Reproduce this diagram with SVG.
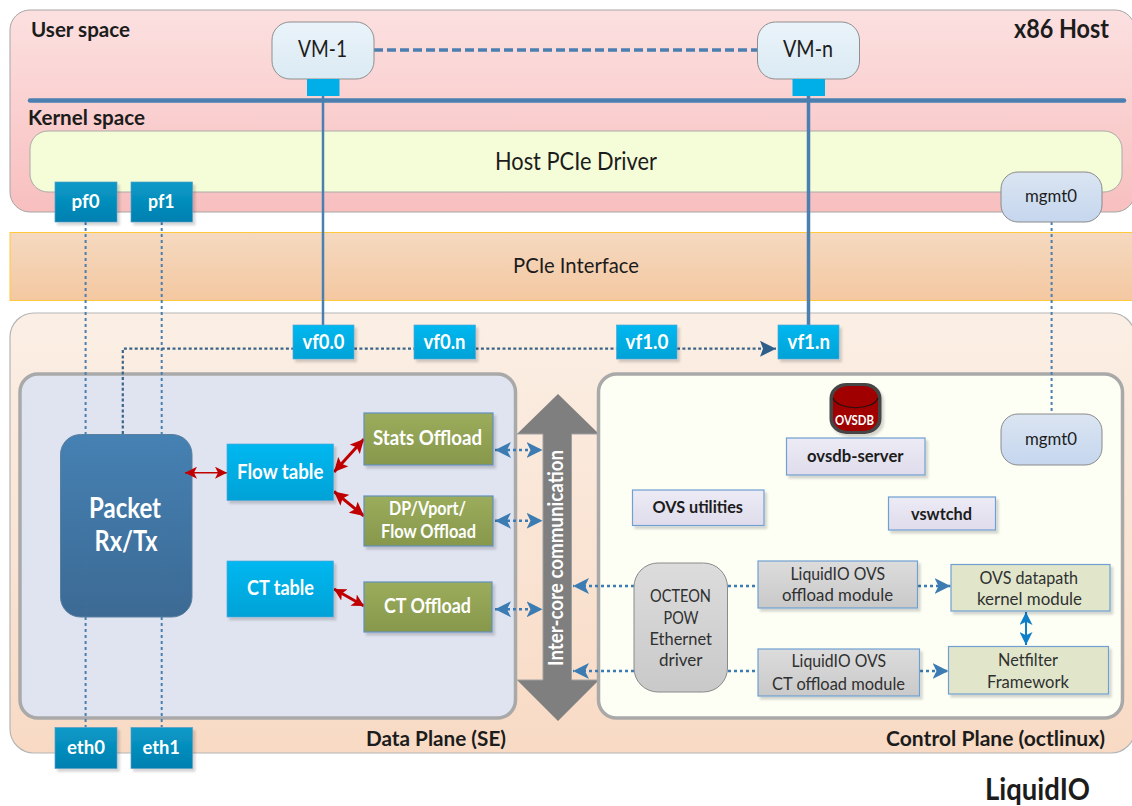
<svg xmlns="http://www.w3.org/2000/svg" width="1132" height="806" viewBox="0 0 1132 806">
<defs>
<linearGradient id="gHost" x1="0" y1="0" x2="0" y2="1"><stop offset="0" stop-color="#fce0e0"/><stop offset="1" stop-color="#f8bfbf"/></linearGradient>
<linearGradient id="gBand" x1="0" y1="0" x2="0" y2="1"><stop offset="0" stop-color="#f5d9c0"/><stop offset="1" stop-color="#f4c8a1"/></linearGradient>
<linearGradient id="gOuter" x1="0" y1="0" x2="0" y2="1"><stop offset="0" stop-color="#fbefe5"/><stop offset="1" stop-color="#f8dac4"/></linearGradient>
<linearGradient id="gVm" x1="0" y1="0" x2="0" y2="1"><stop offset="0" stop-color="#eaf3fa"/><stop offset="1" stop-color="#dbeaf3"/></linearGradient>
<linearGradient id="gMgmt" x1="0" y1="0" x2="0" y2="1"><stop offset="0" stop-color="#dbe5f2"/><stop offset="1" stop-color="#c5d6ee"/></linearGradient>
<linearGradient id="gPf" x1="0" y1="0" x2="0" y2="1"><stop offset="0" stop-color="#0a9ac8"/><stop offset="1" stop-color="#0080b0"/></linearGradient>
<linearGradient id="gVf" x1="0" y1="0" x2="0" y2="1"><stop offset="0" stop-color="#00b8f0"/><stop offset="1" stop-color="#00a2d6"/></linearGradient>
<linearGradient id="gPkt" x1="0" y1="0" x2="0" y2="1"><stop offset="0" stop-color="#4581b3"/><stop offset="1" stop-color="#3c6a94"/></linearGradient>
<linearGradient id="gOli" x1="0" y1="0" x2="0" y2="1"><stop offset="0" stop-color="#9bac5c"/><stop offset="1" stop-color="#87984c"/></linearGradient>
<linearGradient id="gLav" x1="0" y1="0" x2="0" y2="1"><stop offset="0" stop-color="#ecebf5"/><stop offset="1" stop-color="#e0dcec"/></linearGradient>
<linearGradient id="gGry" x1="0" y1="0" x2="0" y2="1"><stop offset="0" stop-color="#dcdcdc"/><stop offset="1" stop-color="#c9c9c9"/></linearGradient>
<filter id="sh" x="-10%" y="-10%" width="125%" height="130%"><feDropShadow dx="2.5" dy="3" stdDeviation="1.2" flood-color="#000" flood-opacity=".16"/></filter>
<marker id="mRed" viewBox="0 0 14 14" refX="14" refY="7" markerWidth="14" markerHeight="14" markerUnits="userSpaceOnUse" orient="auto-start-reverse"><path d="M0 0L14 7L0 14L3 7Z" fill="#c00000"/></marker>
<marker id="mRedS" viewBox="0 0 12 13" refX="12" refY="6.500" markerWidth="12" markerHeight="13" markerUnits="userSpaceOnUse" orient="auto-start-reverse"><path d="M0 0L12 6.500L0 13L3 6.500Z" fill="#c00000"/></marker>
<marker id="mRedT" viewBox="0 0 12 12" refX="12" refY="6" markerWidth="12" markerHeight="12" markerUnits="userSpaceOnUse" orient="auto-start-reverse"><path d="M0 0L12 6L0 12L3 6Z" fill="#c00000"/></marker>
<marker id="mBlue" viewBox="0 0 16 16" refX="16" refY="8" markerWidth="16" markerHeight="16" markerUnits="userSpaceOnUse" orient="auto-start-reverse"><path d="M0 0L16 8L0 16L4 8Z" fill="#3d7cb2"/></marker>
<marker id="mDark" viewBox="0 0 16 16" refX="16" refY="8" markerWidth="16" markerHeight="16" markerUnits="userSpaceOnUse" orient="auto"><path d="M0 0L16 8L0 16L3 8Z" fill="#2e5f8a"/></marker>
<marker id="mBr" viewBox="0 0 12 12" refX="12" refY="6" markerWidth="13" markerHeight="13" markerUnits="userSpaceOnUse" orient="auto-start-reverse"><path d="M0 0L12 6L0 12L3 6Z" fill="#0f7fc8"/></marker>
</defs>
<style>
text{font-family:Lato,"Liberation Sans",sans-serif;fill:#1c1c1c}
.b{font-weight:700}
.w{fill:#fff}
.g{fill:#2f3030}
.pf{fill:url(#gPf);stroke:#5b9cc4;stroke-width:.7;filter:url(#sh)}
.vf{fill:url(#gVf);stroke:#5aa5d5;stroke-width:.7;filter:url(#sh)}
.ol{fill:url(#gOli);stroke:#5f8fbe;stroke-width:1.2;filter:url(#sh)}
.lav{fill:url(#gLav);stroke:#6f9fd0;stroke-width:1.2;filter:url(#sh)}
.gry{fill:url(#gGry);stroke:#6f9fd0;stroke-width:1.2;filter:url(#sh)}
.grn{fill:#e1e6cb;stroke:#6f9fd0;stroke-width:1.2;filter:url(#sh)}
.panel{stroke:#a9a9a9;stroke-width:3.5}
.dot{fill:none;stroke:#4a7fae;stroke-width:2;stroke-dasharray:3 3}
.dotd{fill:none;stroke:#3a6488;stroke-width:2.2;stroke-dasharray:3 2.4}
.sol{fill:none;stroke:#4a7fb0}
.blu{fill:none;stroke:#3d7cb2;stroke-width:2.4;stroke-dasharray:3 3}
</style>

<g id="host"><rect x="10" y="10" width="1125" height="202" rx="20" fill="url(#gHost)" stroke="#a6a6a6" stroke-width="1"/>
<text class="b" x="31" y="37" font-size="21" textLength="99" lengthAdjust="spacingAndGlyphs">User space</text>
<text class="b" x="28" y="125" font-size="21" textLength="117" lengthAdjust="spacingAndGlyphs">Kernel space</text>
<text class="b" x="1014" y="38" font-size="26" textLength="95" lengthAdjust="spacingAndGlyphs">x86 Host</text></g>
<g id="host-driver"><rect x="30" y="131" width="1092" height="61" rx="18" fill="#f5fdd8" stroke="#aaa" stroke-width="1"/>
<text x="495" y="170" font-size="25" textLength="162" lengthAdjust="spacingAndGlyphs">Host PCIe Driver</text></g>
<g id="pcie"><rect x="10" y="232.500" width="1124" height="68" fill="url(#gBand)" stroke="#ffc93c" stroke-width="1"/>
<text x="513" y="273" font-size="21" textLength="126" lengthAdjust="spacingAndGlyphs">PCIe Interface</text></g>
<g id="liquidio"><rect x="10" y="313" width="1125" height="440" rx="24" fill="url(#gOuter)" stroke="#b5b5b5" stroke-width="1.200"/>
<text class="b" x="366" y="746" font-size="21" textLength="140" lengthAdjust="spacingAndGlyphs">Data Plane (SE)</text>
<text class="b" x="886" y="746" font-size="21" textLength="219" lengthAdjust="spacingAndGlyphs">Control Plane (octlinux)</text></g>
<text id="liquidio-title" class="b" x="985" y="800" font-size="30" textLength="105" lengthAdjust="spacingAndGlyphs">LiquidIO</text>

<g id="inter-core"><path d="M558 394L517 434H543V680H517L558 721L599 680H571.500V434H599Z" fill="#7f7f7f"/><path d="M517 434H543V680H517M599 434H571.500V680H599" fill="none" stroke="#a0a0a0" stroke-width="1"/></g>
<g id="data-plane"><rect x="20" y="374" width="495.500" height="344" rx="18" fill="#e0e4f0" class="panel"/></g>
<g id="control-plane"><rect x="598.500" y="374" width="524" height="344" rx="18" fill="#fdfff5" class="panel"/></g>
<text transform="translate(563 666) rotate(-90)" class="b w" font-size="21" textLength="216" lengthAdjust="spacingAndGlyphs">Inter-core communication</text>

<g id="packet"><rect x="60.500" y="434.500" width="131.500" height="182.500" rx="20" fill="url(#gPkt)" stroke="#5b7f9f"/>
<text class="b w" x="89" y="518" font-size="28" textLength="72" lengthAdjust="spacingAndGlyphs">Packet</text>
<text class="b w" x="94.500" y="551" font-size="28" textLength="63" lengthAdjust="spacingAndGlyphs">Rx/Tx</text></g>

<g id="connectors">
<path class="sol" stroke-width="4.500" stroke-linecap="round" d="M30 100.500H1124"/>
<path class="sol" stroke-width="3.500" stroke-dasharray="9 4" d="M374 50H757"/>
<path class="sol" stroke-width="2.500" d="M323 96V325"/>
<path class="sol" stroke-width="3.500" d="M808.500 96V325"/>
<path class="dot" d="M85.600 222V434M161.700 222V434M85.600 617V727M161.700 617V727M1051.600 222V414"/>
<path class="dot" stroke-opacity=".14" d="M85.600 434V617M161.700 434V617"/>
<path class="dotd" d="M122.800 434V348.700H293M354 348.700H414M475.500 348.700H616.500"/>
<path class="dotd" d="M677 348.700H776" marker-end="url(#mDark)"/>
<path d="M185 472.700H227" fill="none" stroke="#c00000" stroke-width="1.500" marker-start="url(#mRedT)" marker-end="url(#mRedT)"/>
<path d="M334 472L364 439" fill="none" stroke="#c00000" stroke-width="3" marker-start="url(#mRed)" marker-end="url(#mRed)"/>
<path d="M334 491.500L364 516" fill="none" stroke="#c00000" stroke-width="3" marker-start="url(#mRed)" marker-end="url(#mRed)"/>
<path d="M334 589L364 606" fill="none" stroke="#c00000" stroke-width="3" marker-start="url(#mRedS)" marker-end="url(#mRedS)"/>
<path class="blu" d="M495 450H542.500" marker-start="url(#mBlue)" marker-end="url(#mBlue)"/>
<path class="blu" d="M495 520.700H542.500" marker-start="url(#mBlue)" marker-end="url(#mBlue)"/>
<path class="blu" d="M495 609.300H542.500" marker-start="url(#mBlue)" marker-end="url(#mBlue)"/>
<path class="blu" d="M634 586H573" marker-end="url(#mBlue)"/>
<path class="blu" d="M634 671H573" marker-end="url(#mBlue)"/>
<path class="blu" d="M728 586H758M728 671H758"/>
<path class="blu" d="M918 586H950.500" marker-end="url(#mBlue)"/>
<path class="blu" d="M920 671H948.500" marker-end="url(#mBlue)"/>
<path d="M1026 612V645" fill="none" stroke="#0f7fc8" stroke-width="2" marker-start="url(#mBr)" marker-end="url(#mBr)"/>
</g>

<g id="vm-1"><rect x="272" y="22" width="102" height="57" rx="18" fill="url(#gVm)" stroke="#8f8f8f"/><rect x="307" y="79" width="32.500" height="17" fill="#00aee8"/>
<text x="298" y="57" font-size="23" textLength="49" lengthAdjust="spacingAndGlyphs">VM-1</text></g>
<g id="vm-n"><rect x="757.500" y="22" width="102" height="57" rx="18" fill="url(#gVm)" stroke="#8f8f8f"/><rect x="792.500" y="79" width="32.500" height="17" fill="#00aee8"/>
<text x="783" y="57" font-size="23" textLength="50" lengthAdjust="spacingAndGlyphs">VM-n</text></g>
<g id="pf0"><rect class="pf" x="55" y="182" width="62" height="40"/><text class="b w" x="71.500" y="208" font-size="19" textLength="28" lengthAdjust="spacingAndGlyphs">pf0</text></g>
<g id="pf1"><rect class="pf" x="131" y="182" width="61.500" height="40"/><text class="b w" x="148" y="208" font-size="19" textLength="26.500" lengthAdjust="spacingAndGlyphs">pf1</text></g>
<g id="mgmt0-host"><rect x="1001" y="172" width="101" height="50" rx="17" fill="url(#gMgmt)" stroke="#8a8a8a"/><text x="1025" y="202" font-size="17.500" textLength="52" lengthAdjust="spacingAndGlyphs">mgmt0</text></g>
<g id="eth0"><rect class="pf" x="55" y="727.500" width="62" height="41"/><text class="b w" x="67" y="754" font-size="19" textLength="38" lengthAdjust="spacingAndGlyphs">eth0</text></g>
<g id="eth1"><rect class="pf" x="131" y="727.500" width="61.500" height="41"/><text class="b w" x="142.500" y="754" font-size="19" textLength="37.500" lengthAdjust="spacingAndGlyphs">eth1</text></g>
<g id="vf0-0"><rect class="vf" x="293" y="325" width="61" height="34"/><text class="b w" x="302.500" y="348.500" font-size="20" textLength="42" lengthAdjust="spacingAndGlyphs">vf0.0</text></g>
<g id="vf0-n"><rect class="vf" x="414" y="325" width="61.500" height="34"/><text class="b w" x="423.500" y="348.500" font-size="20" textLength="42" lengthAdjust="spacingAndGlyphs">vf0.n</text></g>
<g id="vf1-0"><rect class="vf" x="616.500" y="325" width="60.500" height="34"/><text class="b w" x="625.500" y="348.500" font-size="20" textLength="43" lengthAdjust="spacingAndGlyphs">vf1.0</text></g>
<g id="vf1-n"><rect class="vf" x="778" y="325" width="61" height="34"/><text class="b w" x="787.500" y="348.500" font-size="20" textLength="42.500" lengthAdjust="spacingAndGlyphs">vf1.n</text></g>

<g id="flow-table"><rect class="vf" x="227" y="444" width="106.500" height="56.500"/><text class="b w" x="237" y="479" font-size="20" textLength="86.500" lengthAdjust="spacingAndGlyphs">Flow table</text></g>
<g id="ct-table"><rect class="vf" x="227" y="561" width="106.500" height="56"/><text class="b w" x="247" y="595" font-size="20" textLength="67" lengthAdjust="spacingAndGlyphs">CT table</text></g>
<g id="stats-offload"><rect class="ol" x="364" y="413" width="129" height="52"/><text class="b w" x="373" y="445" font-size="20" textLength="109" lengthAdjust="spacingAndGlyphs">Stats Offload</text></g>
<g id="dp-offload"><rect class="ol" x="364" y="496" width="129" height="50"/><text class="b w" x="389" y="515" font-size="18" textLength="77" lengthAdjust="spacingAndGlyphs">DP/Vport/</text><text class="b w" x="381" y="537.500" font-size="18" textLength="95" lengthAdjust="spacingAndGlyphs">Flow Offload</text></g>
<g id="ct-offload"><rect class="ol" x="364" y="582" width="128" height="50"/><text class="b w" x="384" y="613" font-size="20" textLength="87" lengthAdjust="spacingAndGlyphs">CT Offload</text></g>

<g id="ovsdb"><rect x="829.500" y="383" width="52" height="51" rx="17" ry="15" fill="#454545" filter="url(#sh)"/>
<rect x="833" y="386" width="45" height="45" rx="15" ry="13" fill="#a00000"/>
<path d="M833 398C838 411 873 411 878 398" fill="none" stroke="#2a1010" stroke-width="1.200"/>
<text class="b w" x="835" y="425" font-size="13" textLength="39" lengthAdjust="spacingAndGlyphs">OVSDB</text></g>
<g id="ovsdb-server"><rect class="lav" x="786.500" y="438" width="138.500" height="37"/><text class="b" x="807" y="462" font-size="17" textLength="96.500" lengthAdjust="spacingAndGlyphs">ovsdb-server</text></g>
<g id="ovs-utilities"><rect class="lav" x="632.500" y="490" width="131.500" height="35.500"/><text class="b" x="652.500" y="513" font-size="17" textLength="90.500" lengthAdjust="spacingAndGlyphs">OVS utilities</text></g>
<g id="vswtchd"><rect class="lav" x="888.500" y="497" width="107" height="33"/><text class="b" x="911" y="520" font-size="17" textLength="61" lengthAdjust="spacingAndGlyphs">vswtchd</text></g>
<g id="mgmt0-ctrl"><rect x="1001" y="414" width="101" height="51" rx="17" fill="url(#gMgmt)" stroke="#8a8a8a"/><text x="1025" y="445" font-size="17.500" textLength="52" lengthAdjust="spacingAndGlyphs">mgmt0</text></g>
<g id="octeon"><rect x="634" y="563" width="93.500" height="129" rx="24" fill="url(#gGry)" stroke="#8a8a8a"/>
<text class="g" x="650" y="602" font-size="18" textLength="61" lengthAdjust="spacingAndGlyphs">OCTEON</text>
<text class="g" x="663.500" y="623.500" font-size="18" textLength="35" lengthAdjust="spacingAndGlyphs">POW</text>
<text class="g" x="649.500" y="645" font-size="18" textLength="62.500" lengthAdjust="spacingAndGlyphs">Ethernet</text>
<text class="g" x="659" y="666" font-size="18" textLength="43.500" lengthAdjust="spacingAndGlyphs">driver</text></g>
<g id="lio-offload"><rect class="gry" x="758" y="561" width="159.500" height="47"/><text class="g" x="790.500" y="580" font-size="18" textLength="94.500" lengthAdjust="spacingAndGlyphs">LiquidIO OVS</text><text class="g" x="782" y="601" font-size="18" textLength="111" lengthAdjust="spacingAndGlyphs">offload module</text></g>
<g id="lio-ct-offload"><rect class="gry" x="758" y="649" width="161.500" height="47"/><text class="g" x="791.500" y="667" font-size="18" textLength="94.500" lengthAdjust="spacingAndGlyphs">LiquidIO OVS</text><text class="g" x="772" y="689.500" font-size="18" textLength="133" lengthAdjust="spacingAndGlyphs">CT offload module</text></g>
<g id="ovs-datapath"><rect class="grn" x="951" y="564.500" width="159" height="46.500"/><text class="g" x="979.500" y="584" font-size="18" textLength="98.500" lengthAdjust="spacingAndGlyphs">OVS datapath</text><text class="g" x="977" y="605" font-size="18" textLength="105" lengthAdjust="spacingAndGlyphs">kernel module</text></g>
<g id="netfilter"><rect class="grn" x="948.500" y="646.500" width="160" height="47.500"/><text class="g" x="998" y="666" font-size="18" textLength="60" lengthAdjust="spacingAndGlyphs">Netfilter</text><text class="g" x="987" y="688" font-size="18" textLength="82" lengthAdjust="spacingAndGlyphs">Framework</text></g>
</svg>
